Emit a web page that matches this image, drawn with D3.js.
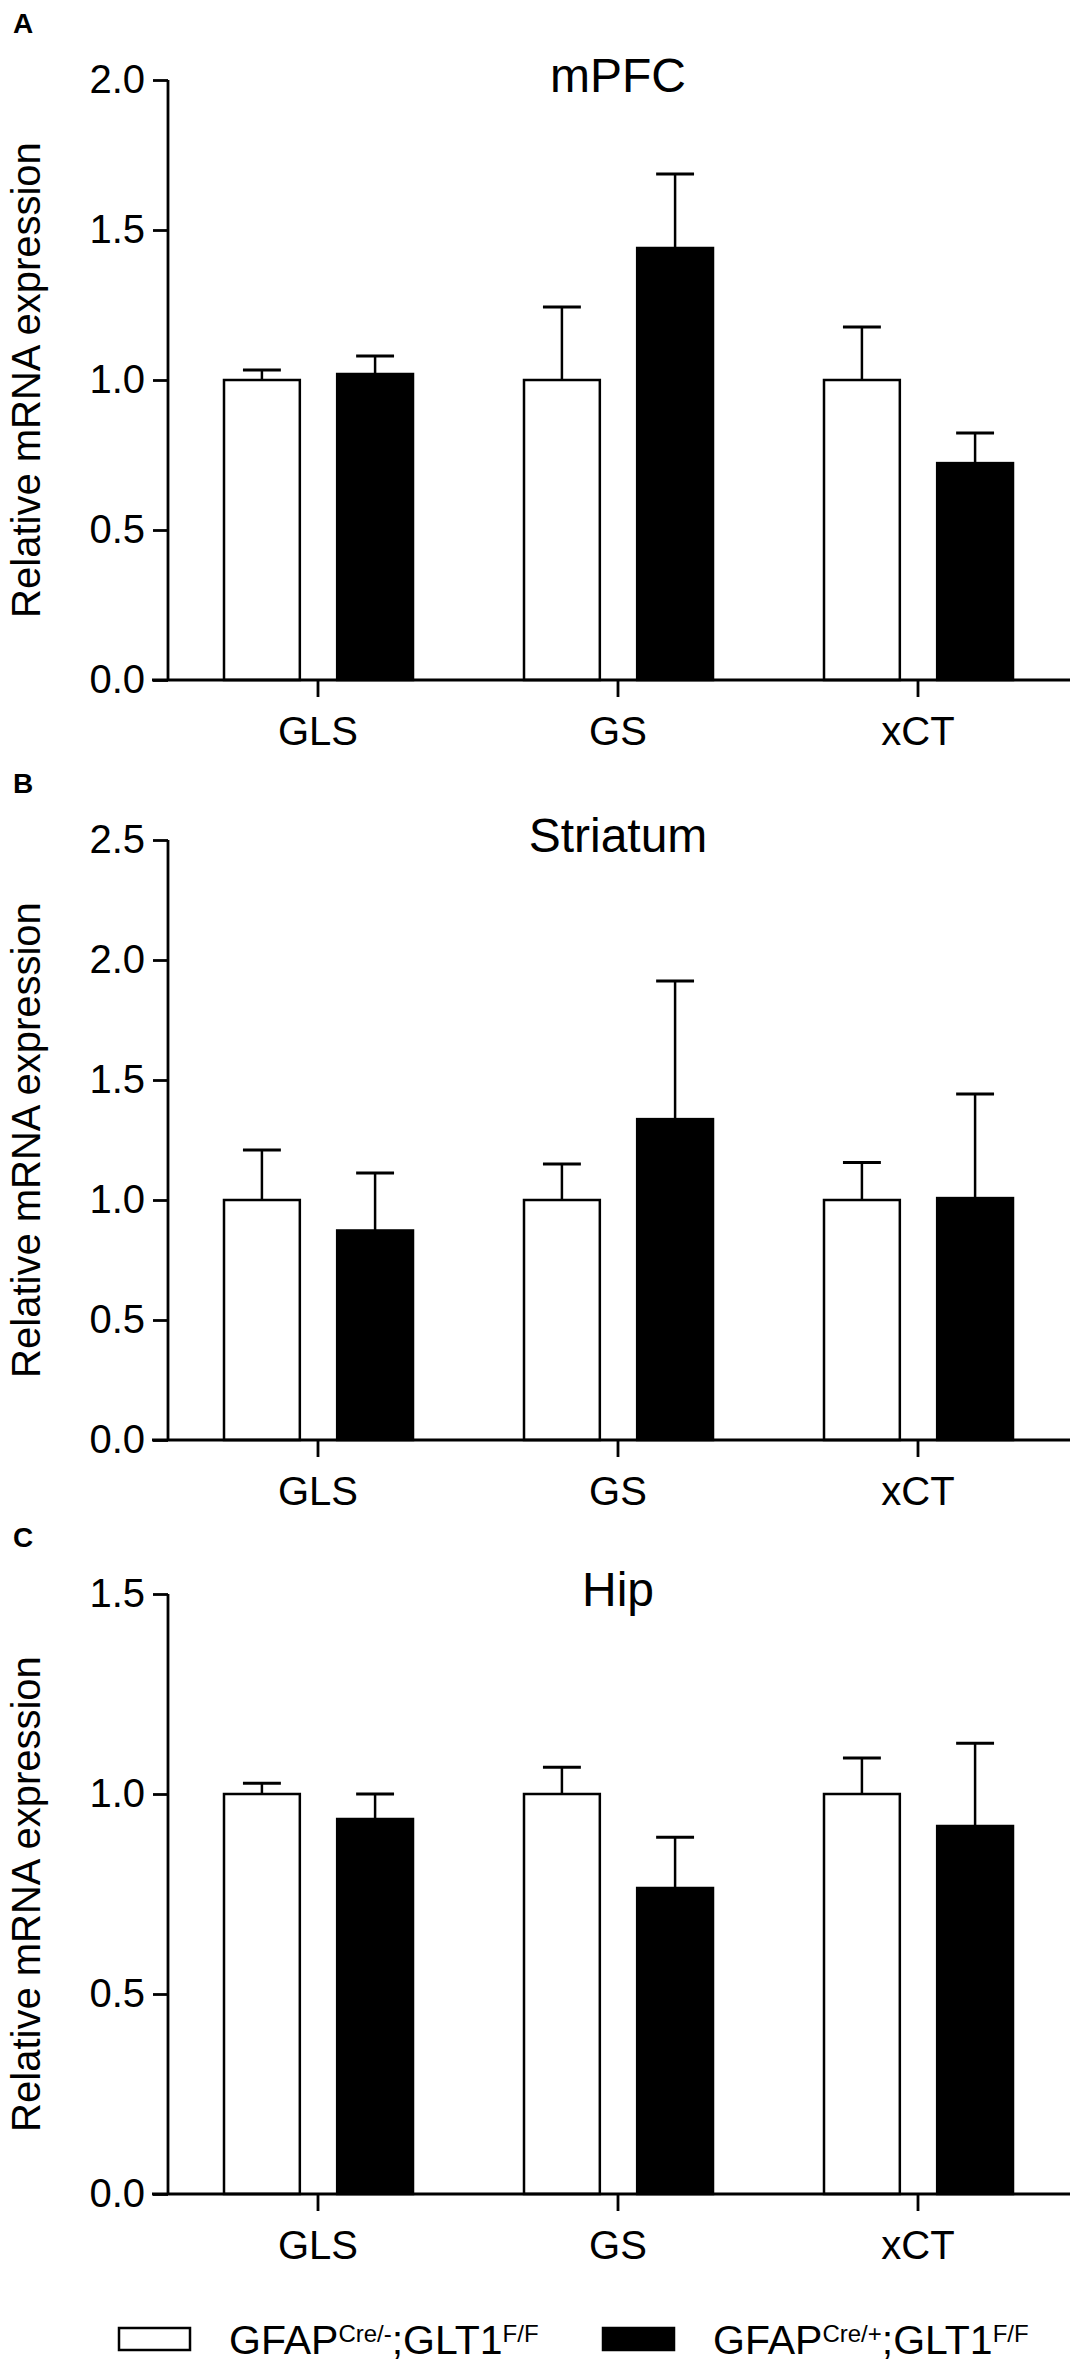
<!DOCTYPE html>
<html>
<head>
<meta charset="utf-8">
<script src="https://cdn.jsdelivr.net/npm/d3@7"></script>
<style>
  body { margin: 0; background: #fff; }
  text { font-family: "Liberation Sans", Arial, Helvetica, sans-serif; fill: #000; }
</style>
</head>
<body>
<script>
// ==========================================
// 1. DATA
// ==========================================

const categories = ["GLS", "GS", "xCT"];
const groups = ["ctrl", "cko"];

// mPFC
const mpfcCtrlMean = [1.00, 1.00, 1.00];
const mpfcCtrlErr  = [0.033, 0.243, 0.177];
const mpfcCkoMean  = [1.02, 1.44, 0.723];
const mpfcCkoErr   = [0.06, 0.247, 0.10];

// Striatum
const strCtrlMean = [1.00, 1.00, 1.00];
const strCtrlErr  = [0.208, 0.15, 0.156];
const strCkoMean  = [0.873, 1.337, 1.008];
const strCkoErr   = [0.24, 0.576, 0.434];

// Hippocampus
const hipCtrlMean = [1.00, 1.00, 1.00];
const hipCtrlErr  = [0.027, 0.067, 0.09];
const hipCkoMean  = [0.9375, 0.765, 0.92];
const hipCkoErr   = [0.0625, 0.127, 0.207];

const mpfcTicks = [0, 0.5, 1.0, 1.5, 2.0];
const strTicks  = [0, 0.5, 1.0, 1.5, 2.0, 2.5];
const hipTicks  = [0, 0.5, 1.0, 1.5];

// ==========================================
// 2. LAYOUT
// ==========================================

const width = 1073, height = 2362;
const plotLeft = 168, plotRight = 1068;
const plotHeight = 600;

const panels = [
  {letter: "A", title: "mPFC",     top: 80,   ticks: mpfcTicks,
   ctrl: mpfcCtrlMean, ctrlErr: mpfcCtrlErr, cko: mpfcCkoMean, ckoErr: mpfcCkoErr},
  {letter: "B", title: "Striatum", top: 840,  ticks: strTicks,
   ctrl: strCtrlMean, ctrlErr: strCtrlErr, cko: strCkoMean, ckoErr: strCkoErr},
  {letter: "C", title: "Hip",      top: 1594, ticks: hipTicks,
   ctrl: hipCtrlMean, ctrlErr: hipCtrlErr, cko: hipCkoMean, ckoErr: hipCkoErr}
];

const svg = d3.select("body").append("svg")
    .attr("width", width)
    .attr("height", height);

// shared x scales
const x0 = d3.scaleBand().domain(categories).range([plotLeft, plotRight]);
const x1 = d3.scaleBand().domain(groups).range([56, 245]).paddingInner(0.33);
const fillColor = {ctrl: "#fff", cko: "#000"};

// ==========================================
// 3. DRAW PANELS
// ==========================================

panels.forEach(p => {
    const yMax = p.ticks[p.ticks.length - 1];
    const y = d3.scaleLinear().domain([0, yMax]).range([p.top + plotHeight, p.top]);
    const g = svg.append("g");

    // build rows for bars
    const rows = [];
    categories.forEach((c, i) => {
        rows.push({cat: c, grp: "ctrl", mean: p.ctrl[i], err: p.ctrlErr[i]});
        rows.push({cat: c, grp: "cko",  mean: p.cko[i],  err: p.ckoErr[i]});
    });

    // error bars (upper only)
    const eb = g.selectAll(".err").data(rows).enter().append("g").attr("class", "err");
    eb.append("line")
        .attr("x1", d => x0(d.cat) + x1(d.grp) + x1.bandwidth() / 2)
        .attr("x2", d => x0(d.cat) + x1(d.grp) + x1.bandwidth() / 2)
        .attr("y1", d => y(d.mean))
        .attr("y2", d => y(d.mean + d.err))
        .attr("stroke", "#000").attr("stroke-width", 2.5);
    eb.append("line")
        .attr("x1", d => x0(d.cat) + x1(d.grp) + x1.bandwidth() / 4)
        .attr("x2", d => x0(d.cat) + x1(d.grp) + x1.bandwidth() * 3 / 4)
        .attr("y1", d => y(d.mean + d.err))
        .attr("y2", d => y(d.mean + d.err))
        .attr("stroke", "#000").attr("stroke-width", 3);

    // bars
    g.selectAll("rect.bar").data(rows).enter().append("rect")
        .attr("class", "bar")
        .attr("x", d => x0(d.cat) + x1(d.grp))
        .attr("width", x1.bandwidth())
        .attr("y", d => y(d.mean))
        .attr("height", d => y(0) - y(d.mean))
        .attr("fill", d => fillColor[d.grp])
        .attr("stroke", "#000")
        .attr("stroke-width", 2.5);

    // y axis
    const yAxis = d3.axisLeft(y).tickValues(p.ticks).tickFormat(d3.format(".1f"))
        .tickSize(15).tickPadding(8);
    const yg = g.append("g").attr("transform", `translate(${plotLeft},0)`).call(yAxis);
    yg.select(".domain").attr("d", `M0,${y(yMax)}V${y(0)}`);

    // x axis
    const xAxis = d3.axisBottom(x0).tickSize(17).tickPadding(20);
    const xg = g.append("g").attr("transform", `translate(0,${y(0)})`).call(xAxis);
    xg.select(".domain").attr("d", `M${plotLeft - 16},0H${plotRight + 2}`);

    [yg, xg].forEach(a => {
        a.selectAll("path, line").attr("stroke", "#000").attr("stroke-width", 2.8);
        a.selectAll("text").attr("font-size", 40).attr("fill", "#000")
            .attr("font-family", "'Liberation Sans', Arial, sans-serif");
    });
    xg.selectAll("text").attr("dy", "0.71em");

    // title
    g.append("text")
        .attr("x", (plotLeft + plotRight) / 2)
        .attr("y", p.top + 12)
        .attr("text-anchor", "middle")
        .attr("font-size", 48)
        .text(p.title);

    // panel letter
    g.append("text")
        .attr("x", 13)
        .attr("y", p.top - 47)
        .attr("font-size", 28)
        .attr("font-weight", "bold")
        .text(p.letter);

    // y axis label
    g.append("text")
        .attr("transform", `translate(40,${p.top + plotHeight / 2}) rotate(-90)`)
        .attr("text-anchor", "middle")
        .attr("font-size", 40)
        .text("Relative mRNA expression");
});

// ==========================================
// 4. LEGEND
// ==========================================

const legendItems = [
  {grp: "ctrl", sup1: "Cre/-", x: 119},
  {grp: "cko",  sup1: "Cre/+", x: 603}
];

const legend = svg.append("g");
legendItems.forEach(item => {
    legend.append("rect")
        .attr("x", item.x).attr("y", 2328)
        .attr("width", 71).attr("height", 22)
        .attr("fill", fillColor[item.grp])
        .attr("stroke", "#000").attr("stroke-width", 2.5);
    const t = legend.append("text")
        .attr("x", item.x + 110).attr("y", 2354)
        .attr("font-size", 41);
    t.append("tspan").text("GFAP");
    t.append("tspan").attr("font-size", 24).attr("dy", -12).text(item.sup1);
    t.append("tspan").attr("dy", 12).text(";GLT1");
    t.append("tspan").attr("font-size", 24).attr("dy", -12).text("F/F");
});
</script>
</body>
</html>
